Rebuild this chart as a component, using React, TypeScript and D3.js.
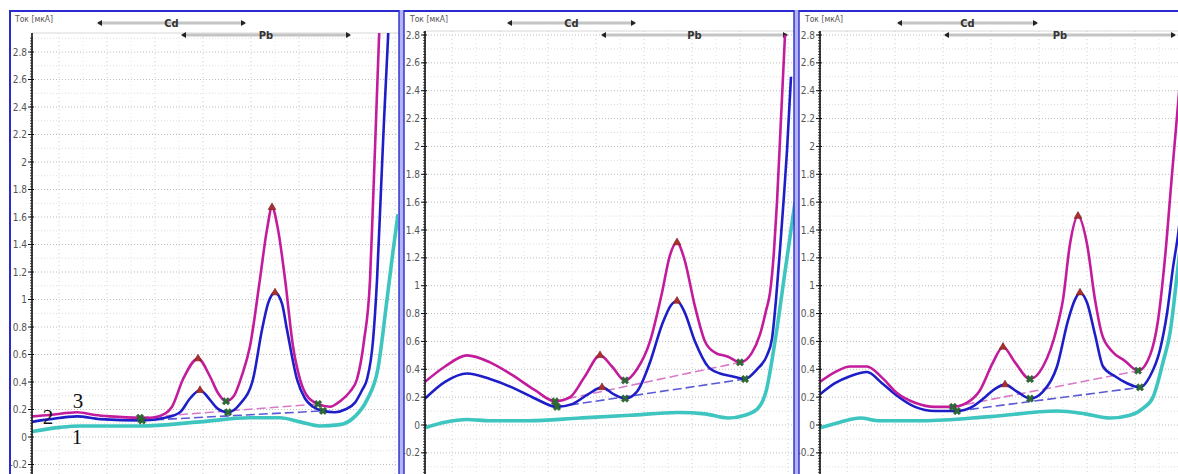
import React from "react";
import * as d3 from "d3";

type Pt = [number, number];

const W = 1178;
const H = 474;

// sweep potential, mV (same sweep in all three runs)
const potentialDomain: [number, number] = [-1110, 0];
const currentLabels = d3.range(-4, 29, 2).map((d) => d / 10);

// ---------- run 1 ----------
const p1c1: Pt[] = [
  [-1110, 0.04], [-1026, 0.07], [-966, 0.08], [-786, 0.08], [-606, 0.11], [-456, 0.14],
  [-366, 0.14], [-306, 0.11], [-246, 0.08], [-186, 0.09], [-141, 0.15], [-105, 0.27],
  [-72, 0.5], [-45, 1.0], [-27, 1.35], [-12, 1.62],
];
const p1c2: Pt[] = [
  [-1110, 0.11], [-1056, 0.13], [-975, 0.15], [-906, 0.13], [-780, 0.12], [-711, 0.14],
  [-666, 0.18], [-636, 0.28], [-606, 0.34], [-576, 0.27], [-555, 0.21], [-522, 0.18],
  [-486, 0.24], [-447, 0.42], [-420, 0.78], [-402, 0.97], [-381, 1.05], [-360, 0.97],
  [-345, 0.78], [-315, 0.42], [-291, 0.28], [-267, 0.22], [-237, 0.19], [-201, 0.18],
  [-171, 0.2], [-141, 0.25], [-120, 0.34], [-105, 0.42], [-87, 0.7], [-75, 1.14],
  [-63, 1.8], [-54, 2.3], [-42, 2.9], [-33, 3.4],
];
const p1c3: Pt[] = [
  [-1110, 0.15], [-1056, 0.16], [-975, 0.18], [-921, 0.16], [-876, 0.15], [-786, 0.14],
  [-756, 0.14], [-711, 0.17], [-690, 0.22], [-657, 0.42], [-612, 0.57], [-576, 0.44],
  [-552, 0.32], [-528, 0.26], [-504, 0.3], [-480, 0.45], [-456, 0.66], [-426, 1.15],
  [-405, 1.51], [-390, 1.67], [-372, 1.51], [-351, 1.15], [-327, 0.66], [-306, 0.42],
  [-285, 0.3], [-252, 0.24], [-216, 0.22], [-186, 0.26], [-156, 0.33], [-135, 0.42],
  [-114, 0.7], [-96, 1.14], [-87, 1.7], [-78, 2.3], [-69, 2.9], [-60, 3.4],
];
const p1Peaks2: Pt[] = [[-606, 0.34], [-381, 1.05]];
const p1Peaks3: Pt[] = [[-612, 0.57], [-390, 1.67]];
const p1Mins2: Pt[] = [[-780, 0.12], [-522, 0.18], [-237, 0.19]];
const p1Mins3: Pt[] = [[-786, 0.14], [-528, 0.26], [-252, 0.24]];
const p1Cd: [number, number] = [-912, -471];
const p1Pb: [number, number] = [-660, -156];

// ---------- run 2 ----------
const p2c1: Pt[] = [
  [-1110, -0.02], [-1050, 0.02], [-984, 0.04], [-915, 0.03], [-801, 0.03], [-645, 0.05],
  [-495, 0.07], [-351, 0.09], [-270, 0.08], [-201, 0.05], [-150, 0.07], [-111, 0.12],
  [-87, 0.24], [-60, 0.6], [-30, 1.1], [0, 1.6],
];
const p2c2: Pt[] = [
  [-1110, 0.19], [-1050, 0.31], [-984, 0.37], [-915, 0.33], [-849, 0.27], [-780, 0.19],
  [-714, 0.13], [-669, 0.15], [-621, 0.22], [-579, 0.27], [-543, 0.22], [-510, 0.19],
  [-474, 0.24], [-435, 0.45], [-399, 0.72], [-372, 0.86], [-354, 0.89], [-333, 0.82],
  [-300, 0.6], [-261, 0.42], [-225, 0.37], [-189, 0.35], [-150, 0.33], [-114, 0.4],
  [-84, 0.5], [-69, 0.62], [-57, 0.9], [-45, 1.26], [-33, 1.65], [-24, 1.97], [-12, 2.5],
];
const p2c3: Pt[] = [
  [-1110, 0.31], [-1050, 0.42], [-984, 0.5], [-915, 0.45], [-849, 0.36], [-780, 0.25],
  [-720, 0.17], [-675, 0.2], [-630, 0.35], [-585, 0.5], [-549, 0.42], [-510, 0.32],
  [-474, 0.4], [-435, 0.6], [-399, 0.95], [-375, 1.22], [-354, 1.31], [-333, 1.2],
  [-300, 0.85], [-270, 0.6], [-240, 0.52], [-201, 0.49], [-165, 0.45], [-129, 0.52],
  [-105, 0.65], [-87, 0.82], [-75, 0.95], [-63, 1.25], [-54, 1.6], [-42, 2.2], [-30, 2.8],
];
const p2Peaks2: Pt[] = [[-579, 0.27], [-354, 0.89]];
const p2Peaks3: Pt[] = [[-585, 0.5], [-354, 1.31]];
const p2Mins2: Pt[] = [[-714, 0.13], [-510, 0.19], [-150, 0.33]];
const p2Mins3: Pt[] = [[-720, 0.17], [-510, 0.32], [-165, 0.45]];
const p2Cd: [number, number] = [-861, -480];
const p2Pb: [number, number] = [-579, -24];

// ---------- run 3 ----------
const p3c1: Pt[] = [
  [-1110, -0.02], [-1050, 0.02], [-990, 0.05], [-930, 0.03], [-801, 0.03], [-600, 0.06],
  [-399, 0.1], [-315, 0.08], [-240, 0.05], [-180, 0.07], [-141, 0.12], [-111, 0.2],
  [-81, 0.45], [-60, 0.66], [-33, 1.2], [-12, 1.6],
];
const p3c2: Pt[] = [
  [-1110, 0.22], [-1065, 0.3], [-1020, 0.35], [-969, 0.38], [-924, 0.3], [-879, 0.21],
  [-825, 0.13], [-765, 0.1], [-699, 0.1], [-654, 0.13], [-615, 0.2], [-585, 0.26],
  [-555, 0.29], [-519, 0.24], [-480, 0.19], [-441, 0.24], [-399, 0.42], [-366, 0.75],
  [-345, 0.9], [-330, 0.95], [-309, 0.88], [-285, 0.65], [-261, 0.42], [-225, 0.35],
  [-189, 0.3], [-150, 0.27], [-120, 0.35], [-90, 0.54], [-69, 0.8], [-51, 1.13],
  [-33, 1.42], [-12, 2.0],
];
const p3c3: Pt[] = [
  [-1110, 0.31], [-1065, 0.38], [-1020, 0.42], [-969, 0.42], [-924, 0.34], [-879, 0.23],
  [-825, 0.16], [-765, 0.13], [-711, 0.13], [-669, 0.16], [-630, 0.25], [-591, 0.45],
  [-561, 0.56], [-525, 0.45], [-480, 0.33], [-441, 0.42], [-399, 0.7], [-381, 0.9],
  [-360, 1.3], [-336, 1.5], [-309, 1.3], [-285, 0.9], [-264, 0.65], [-234, 0.53],
  [-195, 0.46], [-156, 0.39], [-120, 0.5], [-96, 0.75], [-75, 1.2], [-54, 1.8],
  [-36, 2.3], [-18, 2.8],
];
const p3Peaks2: Pt[] = [[-555, 0.29], [-330, 0.95]];
const p3Peaks3: Pt[] = [[-561, 0.56], [-336, 1.5]];
const p3Mins2: Pt[] = [[-699, 0.1], [-480, 0.19], [-150, 0.27]];
const p3Mins3: Pt[] = [[-711, 0.13], [-480, 0.33], [-156, 0.39]];
const p3Cd: [number, number] = [-876, -459];
const p3Pb: [number, number] = [-735, -45];

// curve numbers written on the first run
const curveNotes: { t: string; e: number; v: number }[] = [
  { t: "2", e: -1062, v: 0.145 },
  { t: "3", e: -972, v: 0.26 },
  { t: "1", e: -975, v: 0.0 },
];

const col1 = "#3ec5c0";
const col2 = "#1e1ec8";
const col3 = "#c21c9c";
const frameBlue = "#2a2ad0";
const tickFont = "'DejaVu Sans Condensed', 'Liberation Sans Narrow', 'DejaVu Sans', sans-serif";

const panels = [
  { axisX: 32, right: 398, zero: 437, at28: 52, top: 33, c1: p1c1, c2: p1c2, c3: p1c3, peaks2: p1Peaks2, peaks3: p1Peaks3, mins2: p1Mins2, mins3: p1Mins3, cd: p1Cd, pb: p1Pb, titleX: 15 },
  { axisX: 425, right: 794, zero: 425, at28: 35, top: 31, c1: p2c1, c2: p2c2, c3: p2c3, peaks2: p2Peaks2, peaks3: p2Peaks3, mins2: p2Mins2, mins3: p2Mins3, cd: p2Cd, pb: p2Pb, titleX: 410 },
  { axisX: 820, right: 1178, zero: 425, at28: 35, top: 31, c1: p3c1, c2: p3c2, c3: p3c3, peaks2: p3Peaks2, peaks3: p3Peaks3, mins2: p3Mins2, mins3: p3Mins3, cd: p3Cd, pb: p3Pb, titleX: 805 },
];

const Range = ({ x0, x1, y, label }: { x0: number; x1: number; y: number; label: string }) => (
  <g>
    <line x1={x0} x2={x1} y1={y} y2={y} stroke="#c4c4c4" strokeWidth={3} />
    <path d={`M${x0 - 1},${y}L${x0 + 4},${y - 3}L${x0 + 4},${y + 3}Z`} fill="#222" />
    <path d={`M${x1 + 1},${y}L${x1 - 4},${y - 3}L${x1 - 4},${y + 3}Z`} fill="#222" />
    <text x={(x0 + x1) / 2} y={y + 4} textAnchor="middle" fontSize={11} fontWeight="bold"
      fontFamily={tickFont} fill="#333">{label}</text>
  </g>
);

const Panel = ({ p, i }: { p: (typeof panels)[number]; i: number }) => {
  const x = d3.scaleLinear().domain(potentialDomain).range([p.axisX, p.axisX + 370]);
  const y = d3.scaleLinear().domain([0, 2.8]).range([p.zero, p.at28]);
  const line = d3.line<Pt>().x((d) => x(d[0])).y((d) => y(d[1])).curve(d3.curveMonotoneX);
  const vLow = y.invert(H + 2);
  const vHigh = y.invert(p.top);
  const hGrid = d3.range(-5, 30).map((d) => d / 10).filter((v) => v > vLow && v < vHigh);
  const vGrid = d3.range(-1029, 0, 72);
  const minor = d3.range(-25, 146).map((d) => d / 50).filter((v) => v > vLow && v < vHigh);
  const tri = d3.symbol(d3.symbolTriangle, 26)() as string;
  const cross = d3.symbol(d3.symbolCross, 34)() as string;
  const clip = `plot-clip-${i}`;
  return (
    <g>
      <defs>
        <clipPath id={clip}>
          <rect x={p.axisX} y={p.top} width={p.right - p.axisX} height={H - p.top} />
        </clipPath>
      </defs>
      <text x={p.titleX} y={22} fontSize={8.5} fontFamily={tickFont} fill="#555">Ток [мкА]</text>
      <line x1={p.axisX} x2={p.right} y1={p.top} y2={p.top} stroke="#d8d8d8" />
      {hGrid.map((v, k) => (
        <line key={"h" + k} x1={p.axisX} x2={p.right} y1={y(v)} y2={y(v)}
          stroke={Math.round(v * 10) % 2 === 0 ? "#bdbdbd" : "#dedede"} strokeDasharray="1 2" />
      ))}
      {vGrid.map((e, k) => (
        <line key={"v" + k} x1={x(e)} x2={x(e)} y1={p.top} y2={H}
          stroke={k % 2 === 0 ? "#cfcfcf" : "#e4e4e4"} strokeDasharray="1 3" />
      ))}
      <Range x0={x(p.cd[0])} x1={x(p.cd[1])} y={23} label="Cd" />
      <Range x0={x(p.pb[0])} x1={x(p.pb[1])} y={35} label="Pb" />
      <g clipPath={`url(#${clip})`}>
        <path d={line([p.mins3[0], p.mins3[p.mins3.length - 1]]) ?? ""} fill="none"
          stroke="#d77ac8" strokeWidth={1.6} strokeDasharray="9 4" />
        <path d={line([p.mins2[0], p.mins2[p.mins2.length - 1]]) ?? ""} fill="none"
          stroke="#5a5ad6" strokeWidth={1.6} strokeDasharray="9 4" />
        <path d={line(p.c1) ?? ""} fill="none" stroke={col1} strokeWidth={3.6} />
        <path d={line(p.c2) ?? ""} fill="none" stroke={col2} strokeWidth={2.6} />
        <path d={line(p.c3) ?? ""} fill="none" stroke={col3} strokeWidth={2.6} />
        {[...p.peaks2, ...p.peaks3].map((d, k) => (
          <path key={"pk" + k} d={tri} transform={`translate(${x(d[0])},${y(d[1])})`}
            fill="#a83030" stroke="#7a1c1c" strokeWidth={0.6} />
        ))}
        {[...p.mins2, ...p.mins3].map((d, k) => (
          <path key={"mn" + k} d={cross} transform={`translate(${x(d[0])},${y(d[1])}) rotate(45)`}
            fill="#2d6b35" stroke="#1c4a22" strokeWidth={0.5} />
        ))}
      </g>
      <line x1={p.axisX} x2={p.axisX} y1={p.top} y2={H} stroke="#111" strokeWidth={1.6} />
      {minor.map((v, k) => (
        <line key={"m" + k} x1={p.axisX - 2} x2={p.axisX + 1} y1={y(v)} y2={y(v)} stroke="#222" strokeWidth={0.8} />
      ))}
      {currentLabels.filter((v) => y(v) < H - 4).map((v) => (
        <g key={"t" + v}>
          <line x1={p.axisX - 4} x2={p.axisX + 2} y1={y(v)} y2={y(v)} stroke="#111" strokeWidth={1} />
          <text x={p.axisX - 5} y={y(v) + 3.5} textAnchor="end" fontSize={10} fontFamily={tickFont}
            fill="#555">{String(+v.toFixed(1))}</text>
        </g>
      ))}
      {i === 0 && curveNotes.map((n) => (
        <text key={n.t} x={x(n.e)} y={y(n.v)} textAnchor="middle" dominantBaseline="central"
          fontSize={21} fontFamily="'Liberation Serif', serif" fill="#111">{n.t}</text>
      ))}
    </g>
  );
};

export default function App() {
  return (
    <div style={{ width: W, height: H, background: "#fff" }}>
      <style>{"body{margin:0;}"}</style>
      <svg width={W} height={H} style={{ display: "block" }}>
        <rect width={W} height={H} fill="#fff" />
        {panels.map((p, i) => (
          <Panel key={i} p={p} i={i} />
        ))}
        {/* window frames */}
        <line x1={9} x2={W} y1={11} y2={11} stroke={frameBlue} strokeWidth={2} />
        <line x1={10} x2={10} y1={10} y2={H} stroke={frameBlue} strokeWidth={2} />
        {[399, 794].map((bx) => (
          <g key={bx}>
            <rect x={bx} y={10} width={5} height={H - 10} fill="#b4b4f0" />
            <line x1={bx} x2={bx} y1={10} y2={H} stroke={frameBlue} strokeWidth={1.4} />
            <line x1={bx + 5} x2={bx + 5} y1={10} y2={H} stroke={frameBlue} strokeWidth={1.4} />
          </g>
        ))}
      </svg>
    </div>
  );
}
